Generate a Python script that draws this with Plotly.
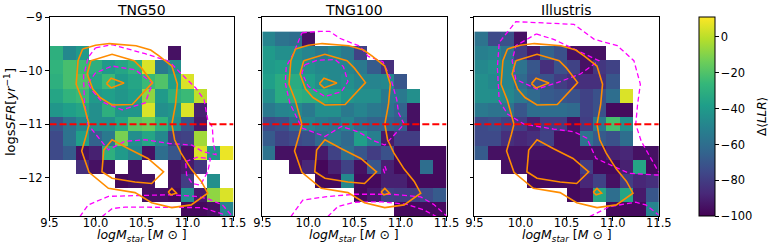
import numpy as np
import plotly.graph_objects as go

# ---------------- data ----------------
PANEL_TITLES = ["TNG50", "TNG100", "Illustris"]
X_TICKS = [9.5, 10.0, 10.5, 11.0, 11.5]
X_TICK_LABELS = ["9.5", "10.0", "10.5", "11.0", "11.5"]
Y_TICKS = [-12, -11, -10, -9]
CBAR_TICKS = [0, -20, -40, -60, -80, -100]
SFR_CUT = -11.0

# bin edges (mass and sSFR grid)
X_EDGES = np.linspace(9.5, 11.5, 15)
Y_EDGES = np.linspace(-9.267, -12.725, 14)   # top -> bottom
N = None

# Delta<LLR> per cell; rows from top (high sSFR) to bottom, columns low -> high mass
DLLR_TNG50 = [
    [N, N, N, N, N, N, N, N, N, N, N, N, N, N],
    [-30, -48, -40, N, N, N, N, N, N, -95, N, N, N, N],
    [-28, -22, -25, -30, -40, -35, -28, 5, -55, -45, N, N, N, N],
    [-30, -22, -20, -35, -25, -40, -35, -25, -20, -38, 5, N, N, N],
    [-35, -28, -25, -40, -38, -42, -38, -8, -40, -30, -25, 0, N, N],
    [-42, -38, -35, -45, -30, -42, -42, 5, -45, -42, 5, -90, N, N],
    [-70, -58, -48, -45, -45, -35, -18, -15, -28, -45, -70, -92, N, N],
    [-75, -58, -38, -65, -55, -12, -45, -35, -48, -80, -78, -5, N, N],
    [-75, -68, -95, -90, -30, -40, -50, -95, -60, -70, -95, 5, -40, 8],
    [N, N, -85, -95, -95, N, -95, N, N, -95, -92, -82, N, N],
    [N, N, N, N, N, -97, -95, -95, N, -95, -80, N, -45, N],
    [N, N, N, N, N, N, N, -95, -95, -97, -45, -92, -8, 5],
    [N, N, N, N, N, N, N, N, N, N, -97, -97, -95, -50],
]
DLLR_TNG100 = [
    [-50, -58, -60, -95, N, N, N, N, N, N, N, N, N, N],
    [-40, -45, -45, -50, -55, -48, -55, -78, N, N, N, N, N, N],
    [-40, -38, -40, -45, -48, -48, -50, -55, -68, -85, N, N, N, N],
    [-38, -32, -32, -38, -45, -48, -45, -50, -50, -48, -70, N, N, N],
    [-45, -32, -30, -32, -32, -35, -42, -45, -45, -55, -55, -45, N, N],
    [-55, -50, -48, -55, -45, -45, -55, -50, -55, -58, -65, -95, N, N],
    [-75, -72, -62, -50, -55, -58, -50, -60, -65, -65, -68, -95, N, N],
    [-68, -78, -75, -72, -62, -55, -62, -38, -52, -92, -80, -80, N, N],
    [-58, -95, -95, -95, -92, -78, -60, -70, -80, -72, -97, -97, -97, -97],
    [N, N, -95, -88, -98, -90, -78, -95, -70, -90, -97, -97, -60, -97],
    [N, N, N, N, -97, -97, -48, -97, -97, -90, -90, -97, -97, -97],
    [N, N, N, N, N, N, N, -97, -92, -78, -80, -80, -75, -68],
    [N, N, N, N, N, N, N, N, N, N, -97, -97, -97, -97],
]
DLLR_ILLUSTRIS = [
    [-58, -75, -72, -95, N, N, N, N, N, N, N, N, N, N],
    [-52, -50, -58, -80, -92, -65, -72, -95, -95, -95, N, N, N, N],
    [-48, -45, -50, -58, -70, -85, -72, -78, -95, -82, -78, N, N, N],
    [-45, -48, -50, -62, -72, -72, -80, -85, -85, -85, -70, N, N, N],
    [-45, -45, -48, -55, -62, -68, -70, -72, -78, -72, -60, 5, N, N],
    [-55, -58, -58, -70, -60, -60, -60, -62, -78, -72, -97, -97, N, N],
    [-75, -72, -78, -80, -90, -80, -80, -95, -80, -55, -22, -45, N, N],
    [-75, -75, -85, -88, -85, -78, -95, -95, -58, -68, -72, -60, N, N],
    [-68, -95, -95, -95, -95, -95, -95, -95, -95, -95, -90, -88, -95, -95],
    [N, N, -95, -95, -97, -97, -97, -97, -80, -97, -97, -90, -35, -97],
    [N, N, N, N, -97, -97, -97, -97, -88, -78, -95, -80, -88, -85],
    [N, N, N, N, N, N, N, -97, -95, -35, -60, -35, -92, -70],
    [N, N, N, N, N, N, N, N, N, N, -97, -97, -97, -50],
]

# observed-sample density contours (same in every panel), (logM, logsSFR)
ORANGE_OUTER = [(9.86, -9.59), (10.0, -9.52), (10.15, -9.49), (10.44, -9.53), (10.6, -9.61),
                (10.69, -9.72), (10.83, -9.91), (10.89, -10.25), (10.87, -10.63), (10.83, -11.0),
                (10.86, -11.29), (10.93, -11.54), (11.04, -11.84), (11.15, -12.07), (11.22, -12.29),
                (11.04, -12.51), (10.83, -12.56), (10.61, -12.47), (10.43, -12.28), (10.14, -12.2),
                (9.93, -11.9), (9.85, -11.5), (9.9, -11.2), (9.93, -11.0), (9.86, -10.56),
                (9.79, -10.25), (9.81, -9.81), (9.86, -9.59)]
ORANGE_MID_UP = [(9.95, -9.81), (10.18, -9.69), (10.42, -9.81), (10.5, -9.95), (10.62, -10.22),
                 (10.52, -10.4), (10.40, -10.63), (10.18, -10.64), (10.05, -10.5), (9.97, -10.34),
                 (9.91, -10.06), (9.95, -9.81)]
ORANGE_IN_UP = [(10.12, -10.24), (10.17, -10.14), (10.31, -10.23), (10.17, -10.32), (10.12, -10.24)]
ORANGE_MID_LOW = [(10.09, -11.48), (10.18, -11.29), (10.36, -11.46), (10.57, -11.64), (10.74, -11.89),
                  (10.61, -12.11), (10.43, -12.08), (10.18, -12.01), (10.07, -11.89), (10.08, -11.64),
                  (10.09, -11.48)]
ORANGE_IN_LOW = [(10.79, -12.27), (10.83, -12.20), (10.88, -12.29), (10.82, -12.32), (10.79, -12.27)]
ORANGE_CONTOURS = [ORANGE_OUTER, ORANGE_MID_UP, ORANGE_IN_UP, ORANGE_MID_LOW, ORANGE_IN_LOW]

# simulation density contours per panel
MAG_TNG50 = [
    [(10.0, -9.57), (10.18, -9.51), (10.54, -9.68), (10.80, -9.82), (10.94, -10.07), (11.09, -10.32),
     (11.18, -10.54), (11.22, -10.92), (11.27, -11.05), (11.28, -11.35), (11.31, -11.57), (11.16, -11.51),
     (11.05, -11.39), (10.80, -11.36), (10.54, -11.29), (10.32, -11.32), (10.14, -11.48), (9.99, -11.17),
     (9.92, -11.01), (9.88, -10.6), (9.87, -10.1), (9.92, -9.75), (10.0, -9.57)],
    [(9.92, -10.23), (10.0, -10.04), (10.18, -9.91), (10.43, -9.98), (10.62, -10.23), (10.54, -10.6),
     (10.29, -10.73), (10.07, -10.58), (9.96, -10.36), (9.92, -10.23)],
    [(10.98, -11.7), (11.1, -11.62), (11.25, -11.64), (11.22, -11.89), (11.14, -12.14), (11.05, -12.11),
     (10.99, -11.95), (10.98, -11.7)],
    [(9.83, -12.73), (9.92, -12.51), (10.14, -12.35), (10.54, -12.34), (10.80, -12.32), (11.09, -12.35),
     (11.23, -12.40), (11.38, -12.51), (11.49, -12.73)],
    [(10.07, -12.73), (10.18, -12.58), (10.32, -12.55), (10.54, -12.55), (10.9, -12.55), (11.16, -12.56),
     (11.38, -12.68), (11.42, -12.73)],
]
MAG_TNG100 = [
    [(9.93, -9.29), (10.13, -9.26), (10.23, -9.26), (10.34, -9.39), (10.56, -9.54), (10.65, -9.73),
     (10.81, -9.83), (10.90, -10.17), (10.96, -10.54), (10.98, -10.79), (11.04, -11.0), (10.93, -11.2),
     (10.83, -11.39), (10.7, -11.3), (10.54, -11.14), (10.36, -11.04), (10.18, -11.23), (9.93, -11.07),
     (9.8, -10.61), (9.75, -10.23), (9.76, -9.92), (9.84, -9.67), (9.93, -9.29)],
    [(9.96, -9.89), (10.1, -9.8), (10.29, -9.79), (10.38, -9.92), (10.43, -10.2), (10.36, -10.39),
     (10.18, -10.48), (10.0, -10.29), (9.93, -10.04), (9.96, -9.89)],
    [(10.83, -11.78), (10.845, -11.85), (10.83, -11.92), (10.815, -11.85), (10.83, -11.78)],
    [(9.81, -12.73), (9.94, -12.42), (10.18, -12.36), (10.50, -12.31), (10.90, -12.31), (11.22, -12.36),
     (11.36, -12.5), (11.51, -12.73)],
    [(10.21, -12.73), (10.32, -12.54), (10.50, -12.46), (10.78, -12.45), (11.07, -12.5), (11.25, -12.6),
     (11.39, -12.73)],
]
MAG_ILLUSTRIS = [
    [(11.5, -11.95), (11.47, -11.95), (11.18, -11.92), (10.97, -11.76), (10.82, -11.64), (10.72, -11.26),
     (10.58, -11.14), (10.36, -11.09), (10.04, -11.0), (9.86, -10.81), (9.77, -10.56), (9.75, -9.94),
     (9.77, -9.47), (9.95, -9.08), (10.58, -9.13), (10.80, -9.41), (11.05, -9.53), (11.23, -9.81),
     (11.30, -10.25), (11.27, -10.63), (11.25, -11.0), (11.31, -11.32), (11.42, -11.64), (11.5, -11.9)],
    [(10.17, -9.31), (10.36, -9.41), (10.58, -9.59), (10.85, -9.81), (10.65, -10.06), (10.40, -10.22),
     (10.18, -10.34), (9.95, -10.16), (9.91, -9.81), (9.95, -9.53), (10.17, -9.31)],
    [(10.75, -12.73), (10.97, -12.54), (11.25, -12.46), (11.36, -12.51), (11.5, -12.7)],
]

PANELS = [
    (PANEL_TITLES[0], DLLR_TNG50, MAG_TNG50),
    (PANEL_TITLES[1], DLLR_TNG100, MAG_TNG100),
    (PANEL_TITLES[2], DLLR_ILLUSTRIS, MAG_ILLUSTRIS),
]

# ---------------- layout / style ----------------
W, H = 770, 249
FONT = "DejaVu Sans"
X_DOMAINS_PX = [(49.5, 233.5), (262.3, 446.5), (474.3, 658.8)]
Y_TOP_PX, Y_BOT_PX = 17.4, 216.4
ydom = [1 - Y_BOT_PX / H, 1 - Y_TOP_PX / H]

x_centers = 0.5 * (X_EDGES[:-1] + X_EDGES[1:])
y_centers = 0.5 * (Y_EDGES[:-1] + Y_EDGES[1:])

fig = go.Figure()
annotations = []
for i, (title, Z, mags) in enumerate(PANELS):
    xa = "x" if i == 0 else f"x{i+1}"
    ya = "y" if i == 0 else f"y{i+1}"
    z = np.array([[np.nan if v is None else v for v in row] for row in Z], dtype=float)
    hm = dict(
        x=x_centers, y=y_centers[::-1], z=z[::-1], colorscale="Viridis",
        zmin=-100, zmax=11, xaxis=xa, yaxis=ya, hoverinfo="skip",
        showscale=(i == 2),
    )
    if i == 2:
        hm["colorbar"] = dict(
            x=699 / W, xanchor="left", xpad=0, y=1 - 116.7 / H, yanchor="middle", ypad=0,
            len=199, lenmode="pixels", thickness=16, thicknessmode="pixels",
            outlinecolor="black", outlinewidth=1, ticks="outside", ticklen=3.5,
            tickwidth=0.8, tickcolor="black", tickvals=CBAR_TICKS,
            tickfont=dict(family=FONT, size=11.5, color="black"),
        )
    fig.add_trace(go.Heatmap(**hm))
    for path in mags:
        fig.add_trace(go.Scatter(
            x=[p[0] for p in path], y=[p[1] for p in path], mode="lines",
            line=dict(color="#ff00ff", width=1.3, dash="5px,3px"),
            xaxis=xa, yaxis=ya, hoverinfo="skip", showlegend=False))
    for path in ORANGE_CONTOURS:
        fig.add_trace(go.Scatter(
            x=[p[0] for p in path], y=[p[1] for p in path], mode="lines",
            line=dict(color="#ff8c00", width=1.6),
            xaxis=xa, yaxis=ya, hoverinfo="skip", showlegend=False))
    fig.add_trace(go.Scatter(
        x=[X_TICKS[0], X_TICKS[-1]], y=[SFR_CUT, SFR_CUT], mode="lines",
        line=dict(color="#ff0000", width=2, dash="7px,3px"),
        xaxis=xa, yaxis=ya, hoverinfo="skip", showlegend=False))

    l, r = X_DOMAINS_PX[i]
    axx = dict(
        domain=[l / W, r / W], range=[X_TICKS[0], X_TICKS[-1]], anchor=ya,
        tickvals=X_TICKS, ticktext=X_TICK_LABELS, ticks="outside", ticklen=3.5,
        tickwidth=0.8, tickcolor="black", showline=True, mirror=True,
        linecolor="black", linewidth=1, showgrid=False, zeroline=False,
        ticklabelstandoff=-8,
        tickfont=dict(family=FONT, size=11.5, color="black"), automargin=False,
    )
    axy = dict(
        domain=ydom, range=[Y_EDGES[-1], -9.0], anchor=xa,
        tickvals=Y_TICKS, ticks="outside", ticklen=3.5, tickwidth=0.8,
        tickcolor="black", showline=True, mirror=True, linecolor="black",
        linewidth=1, showgrid=False, zeroline=False, showticklabels=(i == 0),
        tickfont=dict(family=FONT, size=11.5, color="black"), automargin=False,
    )
    fig.layout["xaxis" if i == 0 else f"xaxis{i+1}"] = axx
    fig.layout["yaxis" if i == 0 else f"yaxis{i+1}"] = axy

    cx = (l + r) / 2 / W
    annotations.append(dict(text=title, x=cx, y=1 - 9.5 / H, xref="paper", yref="paper",
                            showarrow=False, xanchor="center", yanchor="middle",
                            font=dict(family=FONT, size=14, color="black")))
    annotations.append(dict(text="<i>logM</i><sub><i>star</i></sub> [<i>M</i> ⊙ ]",
                            x=cx, y=1 - 235 / H, xref="paper", yref="paper",
                            showarrow=False, xanchor="center", yanchor="middle",
                            font=dict(family=FONT, size=12.5, color="black")))

annotations.append(dict(text="logs<i>SFR</i>[<i>yr</i><sup>−1</sup>]", x=10 / W, y=1 - 112 / H,
                        xref="paper", yref="paper", showarrow=False, textangle=-90,
                        xanchor="center", yanchor="middle",
                        font=dict(family=FONT, size=13, color="black")))
annotations.append(dict(text="Δ⟨<i>LLR</i>⟩", x=762 / W, y=1 - 117 / H,
                        xref="paper", yref="paper", showarrow=False, textangle=-90,
                        xanchor="center", yanchor="middle",
                        font=dict(family=FONT, size=12, color="black")))

fig.update_layout(
    width=W, height=H, margin=dict(l=0, r=0, t=0, b=0),
    paper_bgcolor="white", plot_bgcolor="white",
    showlegend=False, annotations=annotations,
    font=dict(family=FONT, size=11, color="black"),
)

fig.write_html("out.html", config={"displayModeBar": False},
               post_script="document.body.style.margin='0px';")
